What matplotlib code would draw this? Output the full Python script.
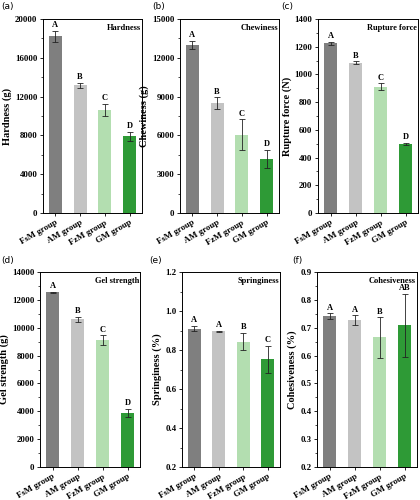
import numpy as np
import matplotlib
matplotlib.use("Agg")
import matplotlib.pyplot as plt
from matplotlib.ticker import MultipleLocator

plt.rcParams['font.family'] = ['Liberation Serif', 'DejaVu Serif']

groups = ["FsM group", "AM group", "FzM group", "GM group"]
colors = ["#7f7f7f", "#c3c3c3", "#b3deb0", "#2e9a36"]

hardness = [18200, 13150, 10650, 7900]
hardness_err = [600, 250, 600, 500]
hardness_sig = ["A", "B", "C", "D"]

chewiness = [13000, 8500, 6050, 4200]
chewiness_err = [300, 450, 1200, 700]
chewiness_sig = ["A", "B", "C", "D"]

rupture = [1225, 1085, 910, 500]
rupture_err = [10, 10, 25, 8]
rupture_sig = ["A", "B", "C", "D"]

gel = [12550, 10600, 9100, 3900]
gel_err = [30, 200, 350, 300]
gel_sig = ["A", "B", "C", "D"]

spring = [0.910, 0.895, 0.843, 0.752]
spring_err = [0.015, 0.005, 0.045, 0.07]
spring_sig = ["A", "A", "B", "C"]

cohes = [0.742, 0.728, 0.665, 0.708]
cohes_err = [0.01, 0.017, 0.072, 0.113]
cohes_sig = ["A", "A", "B", "AB"]

panels = [
    ("(a)", "Hardness", "Hardness (g)", hardness, hardness_err, hardness_sig, (0, 20000), 4000),
    ("(b)", "Chewiness", "Chewiness (g)", chewiness, chewiness_err, chewiness_sig, (0, 15000), 3000),
    ("(c)", "Rupture force", "Rupture force (N)", rupture, rupture_err, rupture_sig, (0, 1400), 200),
    ("(d)", "Gel strength", "Gel strength (g)", gel, gel_err, gel_sig, (0, 14000), 2000),
    ("(e)", "Springiness", "Springiness (%)", spring, spring_err, spring_sig, (0.2, 1.2), 0.2),
    ("(f)", "Cohesiveness", "Cohesiveness (%)", cohes, cohes_err, cohes_sig, (0.2, 0.9), 0.1),
]

# axes positions in pixels (left, top, right, bottom)
boxes = [
    (43, 19, 142, 213), (180, 19, 279, 213), (318, 19, 418, 213),
    (40, 272, 140, 467), (182, 272, 280, 467), (317, 272, 417, 467),
]
# panel tag positions in pixels (left, top)
tag_pos = [(1, 2), (152, 2), (281, 2), (1, 256), (149, 256), (292, 256)]

fig = plt.figure(figsize=(4.2, 5), dpi=100)
W, H = 420, 500

for (tag, title, ylab, vals, errs, sig, ylim, step), (l, t, r, b), (tx, ty) in zip(panels, boxes, tag_pos):
    ax = fig.add_axes([l / W, 1 - b / H, (r - l) / W, (b - t) / H])
    x = np.arange(len(groups))
    ax.bar(x, vals, width=0.52, color=colors, yerr=errs, capsize=2,
           error_kw=dict(elinewidth=0.6, capthick=0.6, ecolor="#222222"))
    ax.set_xlim(-0.5, 3.5)
    ax.set_ylim(*ylim)
    ax.yaxis.set_major_locator(MultipleLocator(step))
    ax.yaxis.set_minor_locator(MultipleLocator(step / 2))
    ax.set_xticks(x)
    ax.set_xticklabels(groups, rotation=30, ha="right", rotation_mode="anchor",
                       fontsize=6.3, fontweight="bold")
    ax.tick_params(axis="both", which="major", direction="out", length=2.5, width=0.6, pad=1.5)
    ax.tick_params(axis="y", which="minor", direction="out", length=1.5, width=0.5)
    ax.tick_params(axis="x", which="minor", bottom=False)
    for lbl in ax.get_yticklabels():
        lbl.set_fontsize(6.3)
        lbl.set_fontweight("bold")
    for sp in ax.spines.values():
        sp.set_linewidth(0.7)
    ax.set_ylabel(ylab, fontsize=7.5, fontweight="bold", labelpad=2)
    ax.text(0.99, 0.975, title, transform=ax.transAxes, ha="right", va="top",
            fontsize=6, fontweight="bold")
    span = ylim[1] - ylim[0]
    for xi, v, e, s in zip(x, vals, errs, sig):
        ax.text(xi, v + e + span * 0.008, s, ha="center", va="bottom",
                fontsize=6, fontweight="bold")
    fig.text(tx / W, 1 - ty / H, tag, ha="left", va="top",
             fontsize=6.5, family=["DejaVu Sans"])

fig.savefig("out.png", dpi=100)
